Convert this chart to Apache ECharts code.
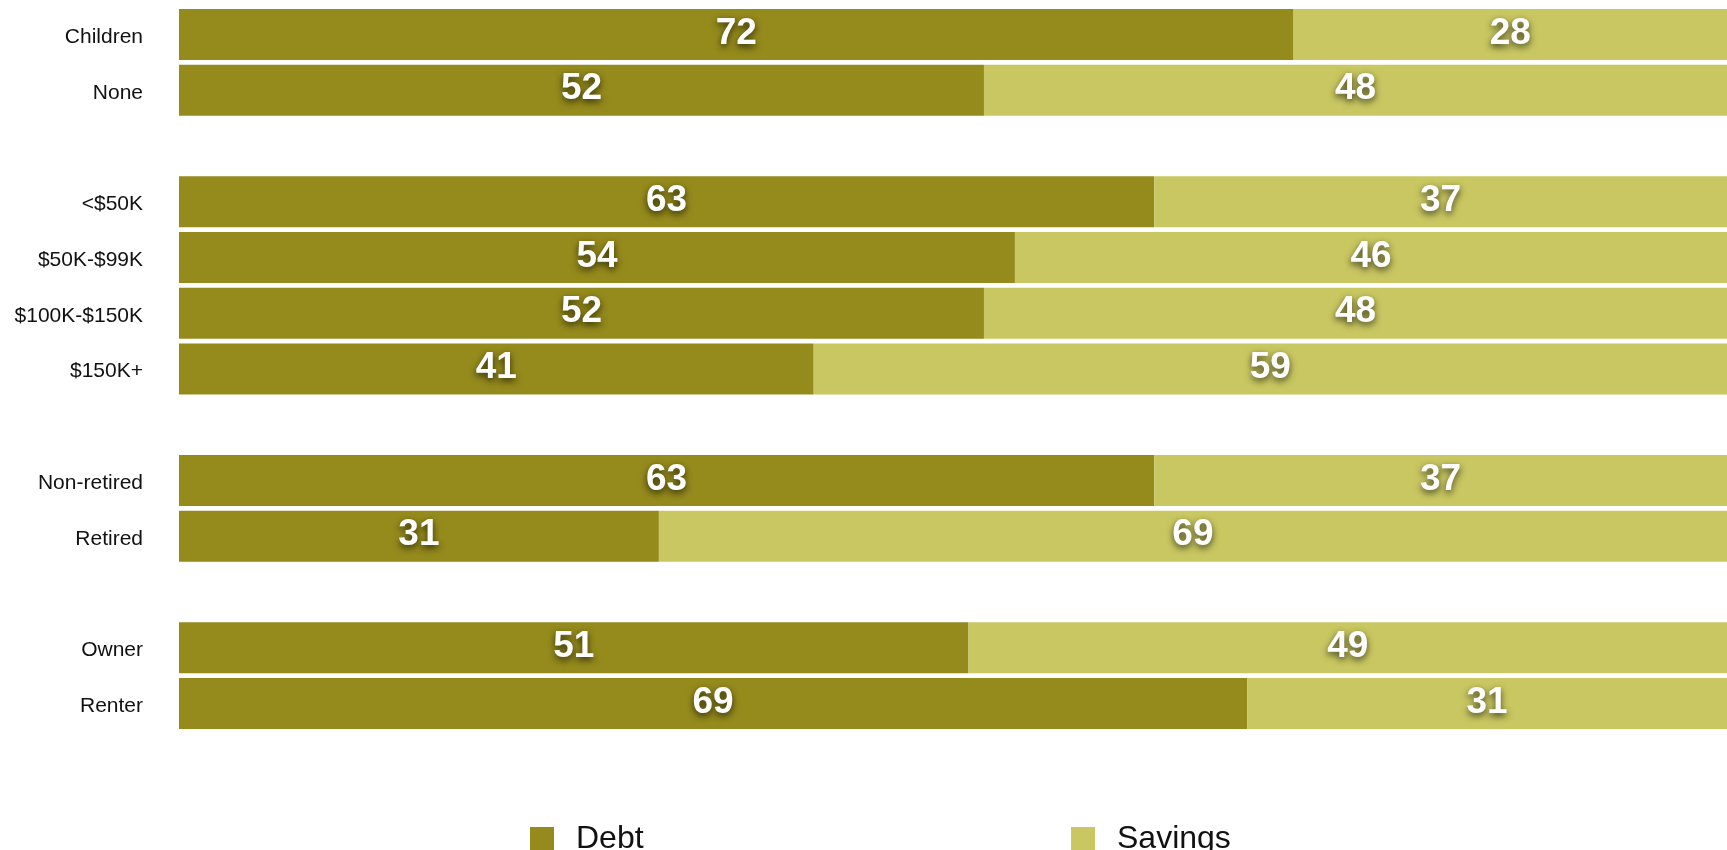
<!DOCTYPE html>
<html>
<head>
<meta charset="utf-8">
<title>Debt vs Savings</title>
<script src="https://cdn.jsdelivr.net/npm/echarts@6/dist/echarts.min.js"></script>
<style>
  html, body { margin: 0; padding: 0; background: #ffffff; }
  #chart { width: 1727px; height: 850px; }
</style>
</head>
<body>
<div id="chart"></div>
<script>
// Row labels, top to bottom; blank entries are spacer rows between groups
const categories = ['Children', 'None', ' ', '<$50K', '$50K-$99K', '$100K-$150K', '$150K+', '  ', 'Non-retired', 'Retired', '   ', 'Owner', 'Renter'];
// Share (%) preferring to pay down debt vs. build savings
const debtValues =    [72, 52, null, 63, 54, 52, 41, null, 63, 31, null, 51, 69];
const savingsValues = [28, 48, null, 37, 46, 48, 59, null, 37, 69, null, 49, 31];
const seriesNames = ['Debt', 'Savings'];

const DEBT_COLOR = '#958a1c';
const SAVINGS_COLOR = '#c9c761';
const FONT = '"Liberation Sans", Arial, Helvetica, sans-serif';

const valueLabel = {
  show: true,
  position: 'inside',
  formatter: p => (p.value == null ? '' : String(p.value)),
  color: '#ffffff',
  fontFamily: FONT,
  fontWeight: 'bold',
  fontSize: 37,
  textShadowColor: 'rgba(0,0,0,0.7)',
  textShadowBlur: 7,
  textShadowOffsetY: 3,
  offset: [0, -1]
};

const legendBase = {
  top: 818,
  itemWidth: 24,
  itemHeight: 24,
  icon: 'rect',
  selectedMode: false,
  textStyle: { fontFamily: FONT, fontSize: 32, color: '#111111', padding: [0, 0, 0, 17] }
};

const chart = echarts.init(document.getElementById('chart'), null, { renderer: 'canvas' });
chart.setOption({
  animation: false,
  backgroundColor: '#ffffff',
  grid: { left: 179, right: 0, top: 6.6, height: 724.75, containLabel: false },
  xAxis: {
    type: 'value', min: 0, max: 100, show: false
  },
  yAxis: {
    type: 'category',
    data: categories,
    inverse: true,
    axisLine: { show: false },
    axisTick: { show: false },
    splitLine: { show: false },
    axisLabel: {
      margin: 36,
      formatter: '{row|{value}}',
      rich: {
        row: { fontFamily: FONT, fontSize: 21, color: '#111111', padding: [5, 0, 0, 0] }
      }
    }
  },
  legend: [
    Object.assign({ left: 525, data: [seriesNames[0]] }, legendBase),
    Object.assign({ left: 1066, data: [seriesNames[1]] }, legendBase)
  ],
  series: [
    {
      name: seriesNames[0], type: 'bar', stack: 'total',
      data: debtValues, barCategoryGap: '8.5%',
      itemStyle: { color: DEBT_COLOR },
      label: valueLabel
    },
    {
      name: seriesNames[1], type: 'bar', stack: 'total',
      data: savingsValues, barCategoryGap: '8.5%',
      itemStyle: { color: SAVINGS_COLOR },
      label: valueLabel
    }
  ]
});
</script>
</body>
</html>
